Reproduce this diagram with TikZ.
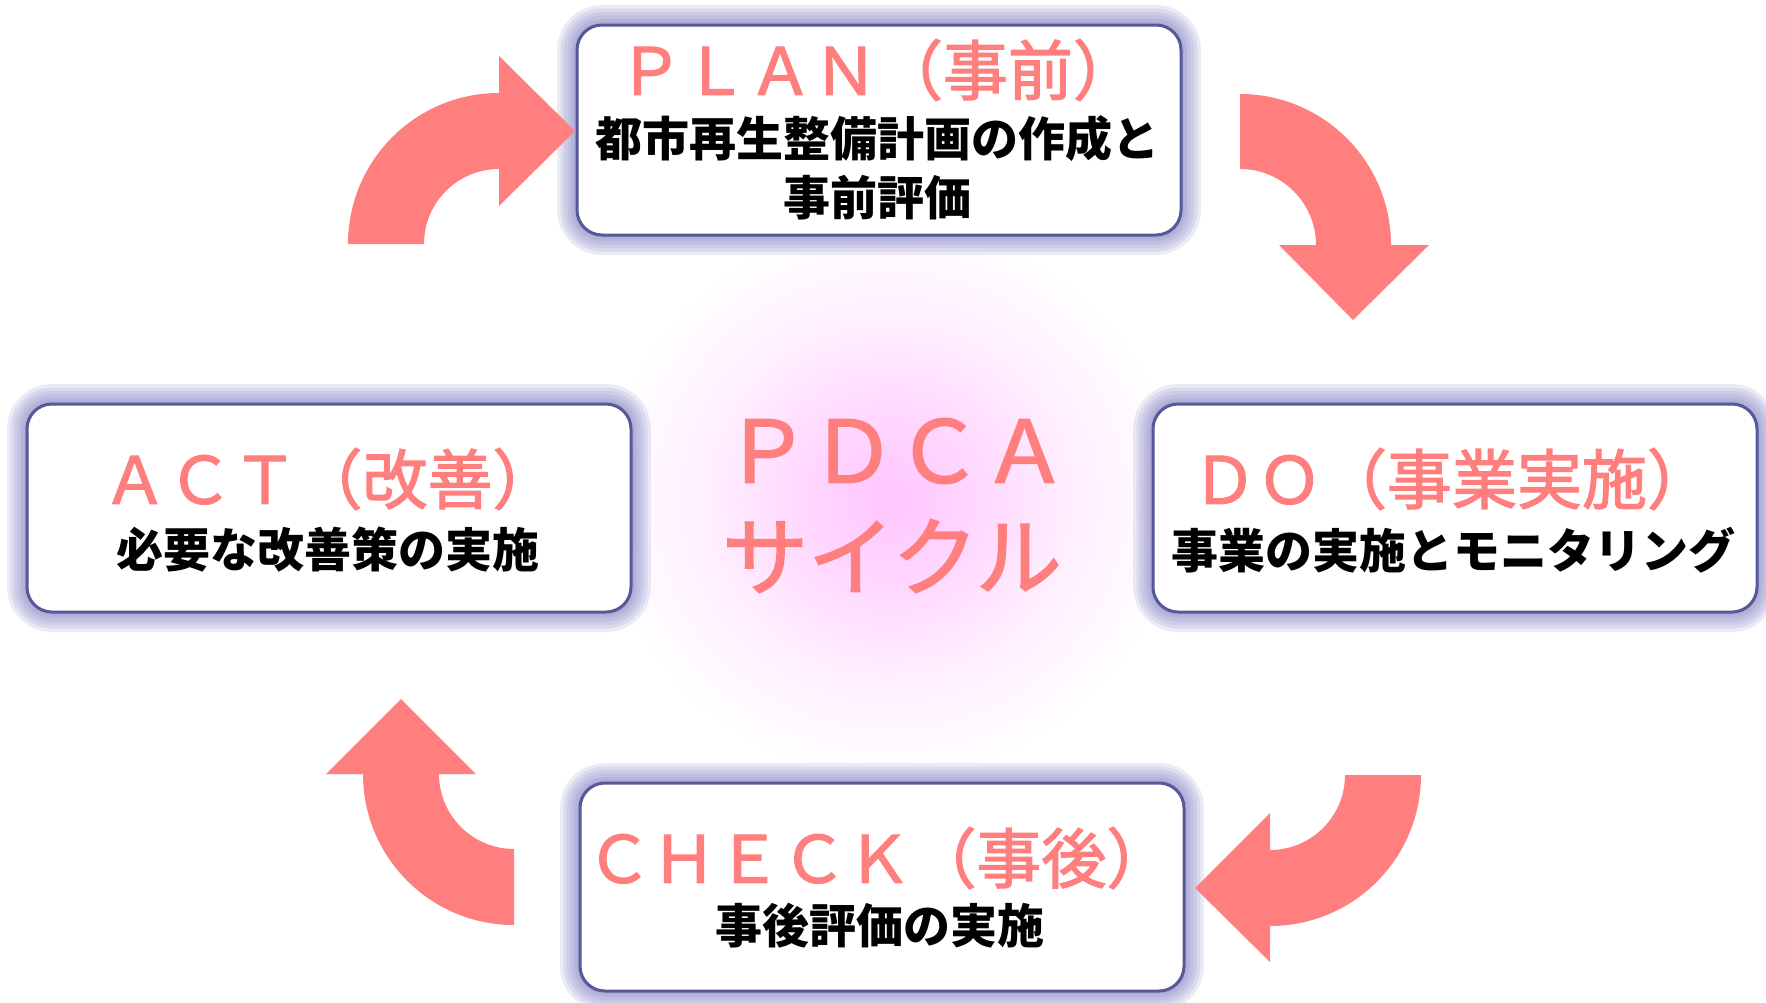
\documentclass[tikz,border=0pt]{standalone}
\usepackage{fontspec}
\setmainfont{Noto Sans CJK JP}
\newfontfamily\pinkfont{Noto Sans CJK JP}[FakeBold=2]
\usetikzlibrary{calc}
\definecolor{pinkc}{RGB}{255,127,127}
\definecolor{borderc}{RGB}{88,88,150}
\definecolor{glowc}{RGB}{120,120,195}
\definecolor{glowcenter}{RGB}{255,198,255}
\definecolor{glowmid}{RGB}{255,214,255}
\definecolor{glowout}{RGB}{255,238,255}
\pgfdeclareradialshading{pinkglow}{\pgfpoint{0bp}{0bp}}{color(0bp)=(glowcenter); color(7bp)=(glowmid); color(15bp)=(glowout); color(24bp)=(white); color(100bp)=(white)}
\pgfdeclarelayer{bg}
\pgfsetlayers{bg,main}
\tikzset{
  boxst/.style={rectangle, draw=borderc, line width=3pt, fill=white, rounded corners=25pt,
    minimum width=604pt, minimum height=208pt, inner sep=0pt, outer sep=0pt},
  pinkt/.style={text=pinkc, inner sep=0pt, font=\pinkfont\fontsize{65}{65}\selectfont},
  blackt/.style={text=black, inner sep=0pt, font=\fontsize{47}{47}\selectfont\bfseries},
  centt/.style={text=pinkc, inner sep=0pt, font=\pinkfont\fontsize{86}{86}\selectfont},
  arrowst/.style={fill=pinkc, draw=none},
}
\newcommand\glowof[1]{%
  \foreach \w in {40,33,26,19,12,6}{%
    \draw[glowc, line width=\w pt, opacity=0.14, rounded corners=25pt]
      (#1.south west) rectangle (#1.north east);}}
\begin{document}
\begin{tikzpicture}[x=1pt,y=-1pt]
\useasboundingbox (0,0) rectangle (1766,1002);
% boxes
\node[boxst, minimum height=210pt] (plan) at (879,130) {};
\node[boxst] (act) at (329,508) {};
\node[boxst] (do) at (1455,508) {};
\node[boxst] (check) at (882,887) {};
\begin{pgfonlayer}{bg}
  \fill[white] (0,0) rectangle (1766,1002);
  \shade[shading=pinkglow] (890,500) ellipse (300pt and 290pt);
  \glowof{plan}
  \glowof{act}
  \glowof{do}
  \glowof{check}
\end{pgfonlayer}
% texts
\node[pinkt] (plan-h) at (878,70) {ＰＬＡＮ（事前）};
\node[blackt] (plan-b1) at (877,139) {都市再生整備計画の作成と};
\node[blackt] (plan-b2) at (877,198) {事前評価};
\node[pinkt] (act-h) at (330,479) {ＡＣＴ（改善）};
\node[blackt] (act-b) at (328,550) {必要な改善策の実施};
\node[pinkt] (do-h) at (1452,479) {ＤＯ（事業実施）};
\node[blackt] (do-b) at (1453,550) {事業の実施とモニタリング};
\node[pinkt] (check-h) at (879,858) {ＣＨＥＣＫ（事後）};
\node[blackt] (check-b) at (880,926) {事後評価の実施};
\node[centt] (pdca) at (896,451) {ＰＤＣＡ};
\node[centt] (cycle) at (892,556) {サイクル};
% block arrows
\fill[arrowst] (348,244) arc[start angle=180, end angle=270, radius=151]
  -- (499,56) -- (575,131) -- (499,206) -- (499,169)
  arc[start angle=270, end angle=180, radius=75] -- cycle;
\fill[arrowst] (1240,94) arc[start angle=270, end angle=360, radius=151]
  -- (1429,245) -- (1353,320) -- (1279,245) -- (1316,245)
  arc[start angle=360, end angle=270, radius=76] -- cycle;
\fill[arrowst] (1421,775) arc[start angle=0, end angle=90, radius=151]
  -- (1270,962) -- (1195,888) -- (1270,813) -- (1270,850)
  arc[start angle=90, end angle=0, radius=75] -- cycle;
\fill[arrowst] (514,925) arc[start angle=90, end angle=180, radius=151]
  -- (326,774) -- (401,699) -- (476,774) -- (439,774)
  arc[start angle=180, end angle=90, radius=75] -- cycle;
\end{tikzpicture}
\end{document}
